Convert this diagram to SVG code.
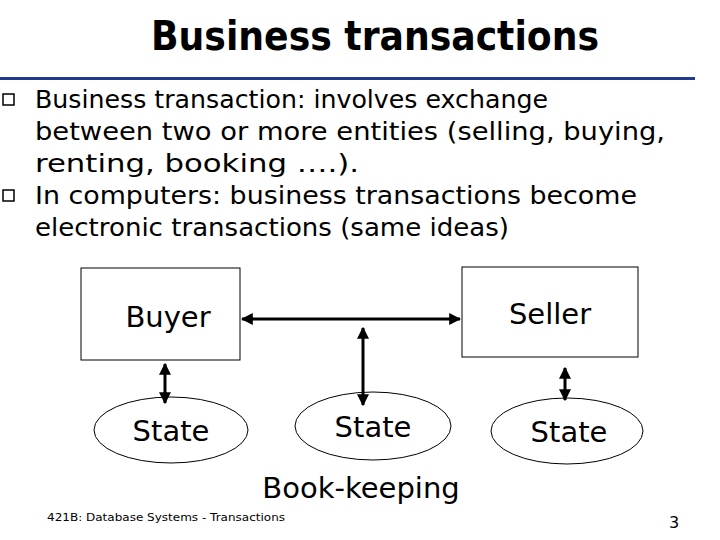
<svg xmlns="http://www.w3.org/2000/svg" width="720" height="540" viewBox="0 0 720 540">
<style>
text{font-family:"DejaVu Sans","Liberation Sans",sans-serif;fill:#000}
.b{font-size:25px}
.n{font-size:29px}
.box{fill:#fff;stroke:#000;stroke-width:1}
.el{fill:#fff;stroke:#000;stroke-width:1}
.c{stroke:#000;stroke-width:3;fill:none;marker-start:url(#a);marker-end:url(#a)}
</style>
<defs>
<marker id="a" viewBox="0 0 10 10" refX="9" refY="5" markerWidth="4" markerHeight="4" orient="auto-start-reverse"><path d="M0,0L10,5L0,10z" fill="#000"/></marker>
</defs>
<rect width="720" height="540" fill="#fff"/>
<text x="375" y="50" text-anchor="middle" font-size="40" font-weight="bold" textLength="448" lengthAdjust="spacingAndGlyphs">Business transactions</text>
<rect x="0" y="77" width="695" height="3" fill="#1f3a93"/>
<g id="bullets">
<rect x="3" y="94" width="11" height="11" fill="none" stroke="#000" stroke-width="1.5"/>
<text class="b" x="35" y="108" textLength="513" lengthAdjust="spacingAndGlyphs">Business transaction: involves exchange</text>
<text class="b" x="35" y="140" textLength="630" lengthAdjust="spacingAndGlyphs">between two or more entities (selling, buying,</text>
<text class="b" x="35" y="172" textLength="324" lengthAdjust="spacingAndGlyphs">renting, booking ….).</text>
<rect x="3" y="190" width="11" height="11" fill="none" stroke="#000" stroke-width="1.5"/>
<text class="b" x="35" y="204" textLength="602" lengthAdjust="spacingAndGlyphs">In computers: business transactions become</text>
<text class="b" x="35" y="236" textLength="474" lengthAdjust="spacingAndGlyphs">electronic transactions (same ideas)</text>
</g>
<g id="buyer"><rect class="box" x="81" y="268" width="159" height="92"/><text class="n" x="168" y="327" text-anchor="middle">Buyer</text></g>
<g id="seller"><rect class="box" x="462" y="267" width="176" height="90"/><text class="n" x="550" y="324" text-anchor="middle">Seller</text></g>
<g id="state1"><ellipse class="el" cx="171" cy="430" rx="77" ry="33"/><text class="n" x="171" y="441" text-anchor="middle">State</text></g>
<g id="state2"><ellipse class="el" cx="373" cy="426" rx="78" ry="34"/><text class="n" x="373" y="437" text-anchor="middle">State</text></g>
<g id="state3"><ellipse class="el" cx="567" cy="431" rx="76" ry="33"/><text class="n" x="569" y="442" text-anchor="middle">State</text></g>
<g id="connectors">
<line class="c" x1="242" y1="319" x2="460" y2="319"/>
<line class="c" x1="363" y1="328" x2="363" y2="405"/>
<line class="c" x1="165" y1="364" x2="165" y2="403"/>
<line class="c" x1="565" y1="368" x2="565" y2="400"/>
</g>
<text class="n" x="361" y="498" text-anchor="middle">Book-keeping</text>
<text x="47" y="521" font-size="11" textLength="238" lengthAdjust="spacingAndGlyphs">421B: Database Systems - Transactions</text>
<text x="674" y="528" font-size="16" text-anchor="middle">3</text>
</svg>
